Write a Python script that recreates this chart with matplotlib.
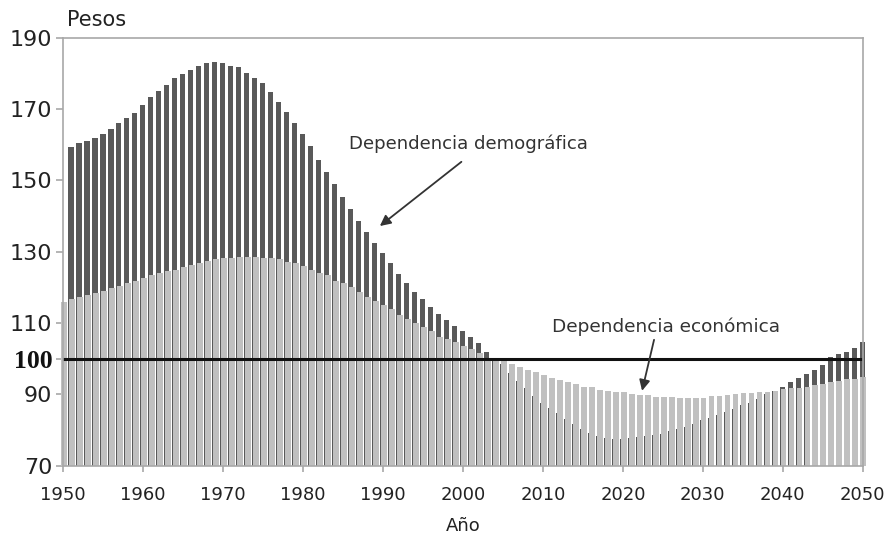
import matplotlib
matplotlib.use("Agg")
import matplotlib.pyplot as plt
import numpy as np

# ---- data ----
light_years = list(range(1950, 2051))
economica = [
    116.0, 116.8, 117.4, 117.9, 118.5, 119.1, 119.8, 120.4, 121.2, 121.9,
    122.7, 123.5, 123.9, 124.5, 124.9, 125.6, 126.4, 126.8, 127.5, 127.9,
    128.3, 128.3, 128.6, 128.6, 128.6, 128.3, 128.2, 127.9, 127.2, 126.8,
    126.0, 124.9, 124.1, 123.5, 121.8, 121.1, 120.0, 118.8, 117.4, 116.1,
    115.0, 113.9, 112.3, 111.1, 109.9, 108.8, 107.7, 106.2, 105.4, 104.6,
    103.5, 102.8, 101.7, 100.2, 99.8, 99.3, 98.6, 97.7, 96.9, 96.3,
    95.5, 94.7, 93.9, 93.5, 92.8, 92.1, 92.0, 91.3, 90.9, 90.7,
    90.6, 90.2, 89.8, 89.7, 89.4, 89.3, 89.2, 89.1, 89.1, 89.1,
    89.1, 89.5, 89.5, 89.8, 90.0, 90.3, 90.4, 90.7, 90.8, 90.9,
    91.4, 91.7, 91.9, 92.1, 92.5, 93.0, 93.4, 93.7, 94.2, 94.4,
    94.8,
]
dark_years = list(range(1951, 2051))
demografica = [
    159.4, 160.4, 161.0, 161.8, 163.0, 164.5, 166.0, 167.5, 169.0,
    171.0, 173.3, 175.1, 176.7, 178.6, 179.7, 180.9, 182.1, 182.8, 183.2,
    182.8, 182.1, 181.7, 180.2, 178.7, 177.2, 174.9, 172.1, 169.1, 166.0,
    163.0, 159.6, 155.7, 152.3, 148.9, 145.4, 142.1, 138.5, 135.5, 132.5,
    129.6, 126.8, 123.7, 121.3, 118.8, 116.8, 114.6, 112.6, 110.8, 109.2,
    107.7, 106.2, 104.3, 102.0, 99.8, 98.4, 95.9, 93.8, 91.7, 89.6,
    87.7, 86.2, 84.7, 83.2, 81.7, 80.4, 79.2, 78.3, 77.8, 77.4,
    77.5, 77.9, 78.1, 78.3, 78.7, 79.0, 79.6, 80.2, 80.9, 81.7,
    82.7, 83.3, 84.2, 85.0, 85.8, 86.9, 87.7, 88.8, 90.0, 91.0,
    92.1, 93.4, 94.6, 95.7, 96.8, 98.3, 100.4, 101.2, 101.9, 102.9,
    104.7,
]
y_ticks = [70, 90, 100, 110, 130, 150, 170, 190]
x_ticks = list(range(1950, 2051, 10))
base = 70

dark_col = "#595959"
light_col = "#c0c0c0"
grey = "#a8a8a8"
txt = "#333333"

fig = plt.figure(figsize=(8.91, 5.39), dpi=100)
ax = fig.add_axes([63.3 / 891, 1 - 465.7 / 539, (862.7 - 63.3) / 891, (465.7 - 37.7) / 539])

dx = np.array(dark_years) - 0.05
dv = np.array(demografica)
ax.bar(dx, dv - base, bottom=base, width=0.66, color=dark_col, linewidth=0, zorder=2, clip_on=False)
lx = np.array(light_years) + 0.09
lv = np.array(economica)
ax.bar(lx, lv - base, bottom=base, width=0.74, color=light_col, linewidth=0, zorder=3, clip_on=False)

ax.axhline(100, color="#111111", lw=2.2, zorder=5)

ax.set_xlim(1950, 2050)
ax.set_ylim(70, 190)

for s in ax.spines.values():
    s.set_color(grey)
    s.set_linewidth(1.2)
    s.set_zorder(6)

ax.set_yticks(y_ticks)
ax.set_yticklabels([str(t) for t in y_ticks])
ax.set_xticks(x_ticks)
ax.set_xticklabels([str(t) for t in x_ticks])
ax.tick_params(axis="y", direction="out", length=5, width=1.2, color=grey, pad=3,
               labelsize=16, labelcolor="#222222")
ax.tick_params(axis="x", direction="out", length=4.5, width=1.2, color=grey, pad=10,
               labelsize=13, labelcolor="#222222")
for lab in ax.get_yticklabels():
    if lab.get_text() == "100":
        lab.set_fontfamily("Liberation Serif")
        lab.set_fontweight("bold")
        lab.set_fontsize(18.5)
        lab.set_color("#111111")

ax.text(0.005, 1.041, "Pesos", transform=ax.transAxes, ha="left", va="center",
        fontsize=15, color="#222222")
fig.text(463 / 891, 1 - 526 / 539, "Año", ha="center", va="center", fontsize=13, color="#222222")

ax.annotate("", xy=(1989.6, 137.2), xytext=(1999.8, 155.2),
            arrowprops=dict(arrowstyle="-|>", color=txt, lw=1.3, mutation_scale=16, shrinkA=0, shrinkB=0),
            zorder=7)
ax.text(1985.8, 160.2, "Dependencia demográfica", ha="left", va="center", fontsize=13.1, color=txt, zorder=7)

ax.annotate("", xy=(2022.4, 91.0), xytext=(2023.9, 105.3),
            arrowprops=dict(arrowstyle="-|>", color=txt, lw=1.3, mutation_scale=16, shrinkA=0, shrinkB=0),
            zorder=7)
ax.text(2011.1, 108.9, "Dependencia económica", ha="left", va="center", fontsize=13.3, color=txt, zorder=7)

fig.savefig("out.png", dpi=100)
